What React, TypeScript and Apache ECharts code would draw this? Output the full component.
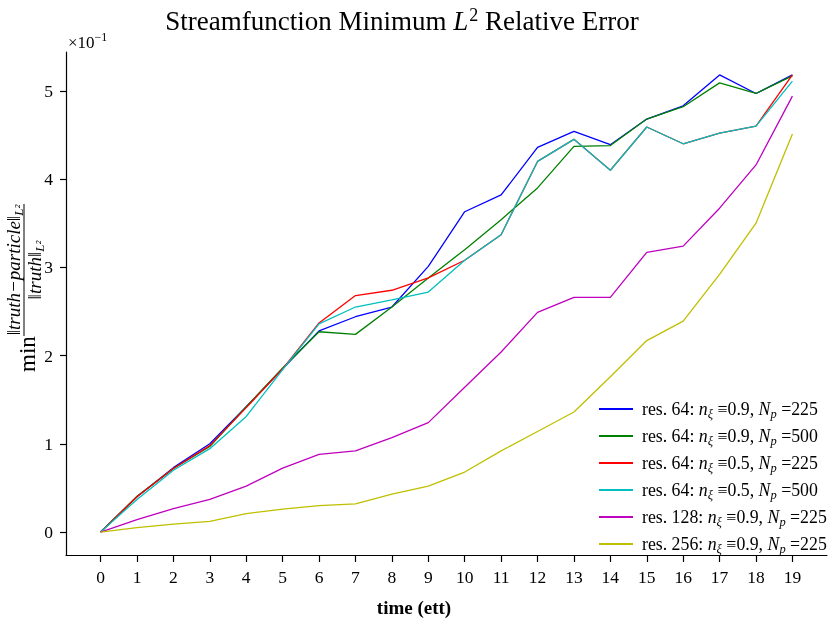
import React, { useEffect, useRef } from "react";
import * as echarts from "echarts";

// time index (ett)
const times = [0, 1, 2, 3, 4, 5, 6, 7, 8, 9, 10, 11, 12, 13, 14, 15, 16, 17, 18, 19];
const xTicks = times;
const yTicks = [0, 1, 2, 3, 4, 5];

// values in units of 1e-1
const res64_09_225 = [0, 0.40, 0.73, 1.0, 1.42, 1.85, 2.28, 2.44, 2.55, 3.01, 3.63, 3.82, 4.36, 4.54, 4.39, 4.68, 4.83, 5.18, 4.97, 5.18];
const res64_09_500 = [0, 0.405, 0.72, 0.97, 1.42, 1.86, 2.27, 2.24, 2.55, 2.88, 3.2, 3.54, 3.9, 4.37, 4.38, 4.68, 4.82, 5.09, 4.97, 5.17];
const res64_05_225 = [0, 0.4, 0.72, 0.98, 1.41, 1.85, 2.37, 2.68, 2.74, 2.88, 3.08, 3.37, 4.2, 4.45, 4.1, 4.59, 4.4, 4.52, 4.6, 5.18];
const res64_05_500 = [0, 0.37, 0.7, 0.945, 1.31, 1.84, 2.36, 2.55, 2.63, 2.72, 3.08, 3.37, 4.2, 4.45, 4.1, 4.59, 4.4, 4.52, 4.6, 5.11];
const res128_09_225 = [0, 0.14, 0.265, 0.37, 0.52, 0.725, 0.88, 0.92, 1.07, 1.24, 1.64, 2.04, 2.49, 2.66, 2.66, 3.17, 3.24, 3.67, 4.16, 4.94];
const res256_09_225 = [0, 0.05, 0.09, 0.12, 0.21, 0.26, 0.3, 0.32, 0.43, 0.52, 0.68, 0.92, 1.14, 1.36, 1.76, 2.17, 2.39, 2.92, 3.5, 4.51];

const seriesNames = [
  "res. 64: |ξ|0.9|225",
  "res. 64: |ξ|0.9|500",
  "res. 64: |ξ|0.5|225",
  "res. 64: |ξ|0.5|500",
  "res. 128: |ξ|0.9|225",
  "res. 256: |ξ|0.9|225",
];
const seriesData = [res64_09_225, res64_09_500, res64_05_225, res64_05_500, res128_09_225, res256_09_225];
const colors = ["#0000ff", "#008000", "#ff0000", "#00bfbf", "#bf00bf", "#bfbf00"];

const FONT = "Liberation Serif";

export default function App() {
  const ref = useRef<HTMLDivElement>(null);
  useEffect(() => {
    const chart = echarts.init(ref.current!, null, { renderer: "svg" });
    const series = seriesData.map((d, i) => ({
      name: seriesNames[i],
      type: "line",
      data: d.map((v, j) => [times[j], v]),
      showSymbol: false,
      symbol: "none",
      color: colors[i],
      lineStyle: { width: 1.3, color: colors[i] },
    }));
    const LH = 20;
    const FS = 17.8;
    const legendRich = {
      n: { fontFamily: FONT, fontSize: FS, color: "#000", lineHeight: LH },
      i: { fontFamily: FONT, fontSize: FS, fontStyle: "italic", color: "#000", lineHeight: LH },
      s: { fontFamily: FONT, fontSize: 12.5, fontStyle: "italic", color: "#000", padding: [9, 0, 0, 0], lineHeight: LH },
    };
    chart.setOption({
      animation: false,
      grid: { left: 66, top: 52, right: 3, bottom: 68 },
      xAxis: {
        type: "value",
        min: -0.95,
        max: 19.95,
        axisLine: { show: true, onZero: false, lineStyle: { color: "#000", width: 1.2 } },
        splitLine: { show: false },
        axisTick: { show: true, customValues: xTicks, length: 7, lineStyle: { color: "#000", width: 1.2 } },
        axisLabel: { customValues: xTicks, fontFamily: FONT, fontSize: 17.5, color: "#000", margin: 13 },
      },
      yAxis: {
        type: "value",
        min: -0.26,
        max: 5.44,
        axisLine: { show: true, onZero: false, lineStyle: { color: "#000", width: 1.2 } },
        splitLine: { show: false },
        axisTick: { show: true, customValues: yTicks, length: 6, lineStyle: { color: "#000", width: 1.2 } },
        axisLabel: { customValues: yTicks, fontFamily: FONT, fontSize: 17.5, color: "#000", margin: 13 },
      },
      legend: {
        orient: "vertical",
        left: 594,
        top: 393,
        itemWidth: 34,
        itemHeight: 2,
        itemGap: 5,
        icon: "rect",
        data: seriesNames.map((n, i) => ({ name: n, itemStyle: { color: colors[i] } })),
        formatter: (name: string) => {
          const [pre, sub, nx, np] = name.split("|");
          return `{n|${pre}}{i|n}{s|${sub}}{n| ≡${nx}, }{i|N}{s|p}{n| =${np}}`;
        },
        textStyle: { rich: legendRich, lineHeight: LH, padding: [0, 0, 0, 4] },
      },
      graphic: [
        {
          type: "text",
          x: 402,
          y: 21,
          style: {
            text: "{n|Streamfunction Minimum }{i|L}{sup|2}{n| Relative Error}",
            align: "center",
            verticalAlign: "middle",
            rich: {
              n: { fontFamily: FONT, fontSize: 27, fill: "#000" },
              i: { fontFamily: FONT, fontSize: 27, fontStyle: "italic", fill: "#000" },
              sup: { fontFamily: FONT, fontSize: 18, fill: "#000", padding: [0, 0, 13, 1] },
            },
          },
        },
        {
          type: "text",
          x: 68,
          y: 42,
          style: {
            text: "{n|×10}{sup|−1}",
            verticalAlign: "middle",
            rich: {
              n: { fontFamily: FONT, fontSize: 17, fill: "#000" },
              sup: { fontFamily: FONT, fontSize: 12, fill: "#000", padding: [0, 0, 10, 0] },
            },
          },
        },
        {
          type: "text",
          x: 414,
          y: 607,
          style: {
            text: "time (ett)",
            align: "center",
            verticalAlign: "middle",
            fontFamily: FONT,
            fontSize: 19,
            fontWeight: "bold",
            fill: "#000",
          },
        },
        {
          type: "group",
          x: 0,
          y: 372,
          rotation: Math.PI / 2,
          children: [
            {
              type: "text",
              x: 0,
              y: 27,
              style: {
                text: "min",
                verticalAlign: "middle",
                fontFamily: FONT,
                fontSize: 23,
                fill: "#000",
              },
            },
            {
              type: "text",
              x: 102,
              y: 13,
              style: {
                text: "{n|‖}{i|truth−particle}{n|‖}{s|L²}",
                align: "center",
                verticalAlign: "middle",
                rich: {
                  n: { fontFamily: FONT, fontSize: 19, fill: "#000" },
                  i: { fontFamily: FONT, fontSize: 19, fontStyle: "italic", fill: "#000" },
                  s: { fontFamily: FONT, fontSize: 13, fontStyle: "italic", fill: "#000", padding: [10, 0, 0, 0] },
                },
              },
            },
            {
              type: "line",
              shape: { x1: 36, y1: 24, x2: 168, y2: 24 },
              style: { stroke: "#000", lineWidth: 1 },
            },
            {
              type: "text",
              x: 102,
              y: 34,
              style: {
                text: "{n|‖}{i|truth}{n|‖}{s|L²}",
                align: "center",
                verticalAlign: "middle",
                rich: {
                  n: { fontFamily: FONT, fontSize: 19, fill: "#000" },
                  i: { fontFamily: FONT, fontSize: 19, fontStyle: "italic", fill: "#000" },
                  s: { fontFamily: FONT, fontSize: 13, fontStyle: "italic", fill: "#000", padding: [10, 0, 0, 0] },
                },
              },
            },
          ],
        },
      ],
      series,
    });
    return () => chart.dispose();
  }, []);
  return <div ref={ref} style={{ position: "fixed", left: 0, top: 0, width: 830, height: 623 }} />;
}
